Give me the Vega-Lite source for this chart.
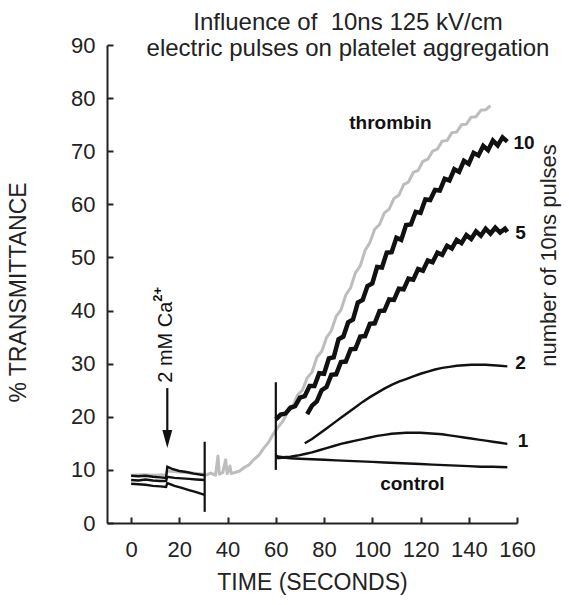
{
  "$schema": "https://vega.github.io/schema/vega-lite/v6.json",
  "width": 410,
  "height": 478,
  "autosize": {"type": "none"},
  "padding": {"left": 107, "top": 45, "right": 52, "bottom": 82},
  "background": "white",
  "title": {
    "text": ["Influence of \u00a010ns 125 kV/cm", "electric pulses on platelet aggregation"],
    "fontSize": 24,
    "font": "Liberation Sans",
    "fontWeight": "normal",
    "color": "#222",
    "anchor": "middle",
    "frame": "group",
    "dx": 36,
    "offset": -46,
    "baseline": "alphabetic",
    "lineHeight": 26
  },
  "datasets": {
    "lines": [
      {"s": "thrombin", "t": 0, "v": 9.0}, {"s": "thrombin", "t": 5, "v": 9.1}, {"s": "thrombin", "t": 10, "v": 9.0}, {"s": "thrombin", "t": 14.5, "v": 9.1}, {"s": "thrombin", "t": 15, "v": 9.8}, {"s": "thrombin", "t": 20, "v": 9.6}, {"s": "thrombin", "t": 25, "v": 9.4}, {"s": "thrombin", "t": 30, "v": 9.2},
      {"s": "thrombin", "t": 31, "v": 9.0}, {"s": "thrombin", "t": 33, "v": 9.4}, {"s": "thrombin", "t": 35, "v": 9.0}, {"s": "thrombin", "t": 36, "v": 12.6}, {"s": "thrombin", "t": 36.6, "v": 9.2}, {"s": "thrombin", "t": 38, "v": 9.5}, {"s": "thrombin", "t": 39.2, "v": 11.9}, {"s": "thrombin", "t": 39.8, "v": 9.3}, {"s": "thrombin", "t": 41, "v": 10.7}, {"s": "thrombin", "t": 41.5, "v": 9.3}, {"s": "thrombin", "t": 43, "v": 9.5}, {"s": "thrombin", "t": 45, "v": 9.8}, {"s": "thrombin", "t": 47, "v": 10.5}, {"s": "thrombin", "t": 49, "v": 11.0}, {"s": "thrombin", "t": 51, "v": 12.0}, {"s": "thrombin", "t": 53, "v": 12.8}, {"s": "thrombin", "t": 55, "v": 14.1}, {"s": "thrombin", "t": 57, "v": 15.2}, {"s": "thrombin", "t": 59, "v": 16.8}, {"s": "thrombin", "t": 61, "v": 18.1}, {"s": "thrombin", "t": 63, "v": 19.2}, {"s": "thrombin", "t": 65, "v": 21.0}, {"s": "thrombin", "t": 67, "v": 21.9}, {"s": "thrombin", "t": 69, "v": 24.1}, {"s": "thrombin", "t": 71, "v": 25.0}, {"s": "thrombin", "t": 73, "v": 27.3}, {"s": "thrombin", "t": 75, "v": 28.4}, {"s": "thrombin", "t": 77, "v": 31.2}, {"s": "thrombin", "t": 79, "v": 32.3}, {"s": "thrombin", "t": 81, "v": 34.9}, {"s": "thrombin", "t": 83, "v": 36.2}, {"s": "thrombin", "t": 85, "v": 38.9}, {"s": "thrombin", "t": 87, "v": 40.1}, {"s": "thrombin", "t": 89, "v": 42.9}, {"s": "thrombin", "t": 91, "v": 44.3}, {"s": "thrombin", "t": 93, "v": 47.1}, {"s": "thrombin", "t": 95, "v": 48.4}, {"s": "thrombin", "t": 97, "v": 51.3}, {"s": "thrombin", "t": 99, "v": 52.8}, {"s": "thrombin", "t": 101, "v": 55.3}, {"s": "thrombin", "t": 103, "v": 56.2}, {"s": "thrombin", "t": 105, "v": 58.4}, {"s": "thrombin", "t": 107, "v": 59.1}, {"s": "thrombin", "t": 109, "v": 61.1}, {"s": "thrombin", "t": 111, "v": 61.7}, {"s": "thrombin", "t": 113, "v": 63.7}, {"s": "thrombin", "t": 115, "v": 64.2}, {"s": "thrombin", "t": 117, "v": 66.0}, {"s": "thrombin", "t": 119, "v": 66.4}, {"s": "thrombin", "t": 121, "v": 68.1}, {"s": "thrombin", "t": 123, "v": 68.5}, {"s": "thrombin", "t": 125, "v": 70.0}, {"s": "thrombin", "t": 127, "v": 70.4}, {"s": "thrombin", "t": 129, "v": 71.9}, {"s": "thrombin", "t": 131, "v": 72.0}, {"s": "thrombin", "t": 133, "v": 73.5}, {"s": "thrombin", "t": 135, "v": 73.6}, {"s": "thrombin", "t": 137, "v": 75.0}, {"s": "thrombin", "t": 139, "v": 75.1}, {"s": "thrombin", "t": 141, "v": 76.4}, {"s": "thrombin", "t": 143, "v": 76.5}, {"s": "thrombin", "t": 145, "v": 77.7}, {"s": "thrombin", "t": 147, "v": 77.8}, {"s": "thrombin", "t": 149, "v": 78.6},

      {"s": "10", "t": 60, "v": 19.5}, {"s": "10", "t": 62, "v": 20.4}, {"s": "10", "t": 64, "v": 20.6}, {"s": "10", "t": 66, "v": 21.7}, {"s": "10", "t": 68, "v": 22.0}, {"s": "10", "t": 70, "v": 23.6}, {"s": "10", "t": 72, "v": 23.9}, {"s": "10", "t": 74, "v": 25.8}, {"s": "10", "t": 76, "v": 25.8}, {"s": "10", "t": 78, "v": 28.2}, {"s": "10", "t": 80, "v": 28.1}, {"s": "10", "t": 82, "v": 31.0}, {"s": "10", "t": 84, "v": 31.2}, {"s": "10", "t": 86, "v": 34.6}, {"s": "10", "t": 88, "v": 35.1}, {"s": "10", "t": 90, "v": 37.8}, {"s": "10", "t": 92, "v": 38.3}, {"s": "10", "t": 94, "v": 41.5}, {"s": "10", "t": 96, "v": 42.0}, {"s": "10", "t": 98, "v": 44.6}, {"s": "10", "t": 100, "v": 45.1}, {"s": "10", "t": 102, "v": 48.2}, {"s": "10", "t": 104, "v": 48.1}, {"s": "10", "t": 106, "v": 50.9}, {"s": "10", "t": 108, "v": 51.0}, {"s": "10", "t": 110, "v": 53.7}, {"s": "10", "t": 112, "v": 53.3}, {"s": "10", "t": 114, "v": 56.1}, {"s": "10", "t": 116, "v": 56.2}, {"s": "10", "t": 118, "v": 58.6}, {"s": "10", "t": 120, "v": 58.4}, {"s": "10", "t": 122, "v": 60.9}, {"s": "10", "t": 124, "v": 60.8}, {"s": "10", "t": 126, "v": 62.7}, {"s": "10", "t": 128, "v": 62.6}, {"s": "10", "t": 130, "v": 64.8}, {"s": "10", "t": 132, "v": 64.5}, {"s": "10", "t": 134, "v": 66.6}, {"s": "10", "t": 136, "v": 66.1}, {"s": "10", "t": 138, "v": 68.2}, {"s": "10", "t": 140, "v": 67.6}, {"s": "10", "t": 142, "v": 69.7}, {"s": "10", "t": 144, "v": 69.2}, {"s": "10", "t": 146, "v": 71.0}, {"s": "10", "t": 148, "v": 70.2}, {"s": "10", "t": 150, "v": 72.0}, {"s": "10", "t": 152, "v": 71.1}, {"s": "10", "t": 154, "v": 72.6}, {"s": "10", "t": 156, "v": 71.8},

      {"s": "5", "t": 73, "v": 20.5}, {"s": "5", "t": 75, "v": 22.1}, {"s": "5", "t": 77, "v": 22.9}, {"s": "5", "t": 79, "v": 25.0}, {"s": "5", "t": 81, "v": 25.6}, {"s": "5", "t": 83, "v": 27.9}, {"s": "5", "t": 85, "v": 28.0}, {"s": "5", "t": 87, "v": 30.3}, {"s": "5", "t": 89, "v": 30.4}, {"s": "5", "t": 91, "v": 32.7}, {"s": "5", "t": 93, "v": 32.8}, {"s": "5", "t": 95, "v": 35.1}, {"s": "5", "t": 97, "v": 35.2}, {"s": "5", "t": 99, "v": 37.5}, {"s": "5", "t": 101, "v": 37.6}, {"s": "5", "t": 103, "v": 39.9}, {"s": "5", "t": 105, "v": 40.0}, {"s": "5", "t": 107, "v": 42.1}, {"s": "5", "t": 109, "v": 42.0}, {"s": "5", "t": 111, "v": 44.1}, {"s": "5", "t": 113, "v": 44.0}, {"s": "5", "t": 115, "v": 46.0}, {"s": "5", "t": 117, "v": 45.8}, {"s": "5", "t": 119, "v": 47.8}, {"s": "5", "t": 121, "v": 47.5}, {"s": "5", "t": 123, "v": 49.4}, {"s": "5", "t": 125, "v": 49.1}, {"s": "5", "t": 127, "v": 50.9}, {"s": "5", "t": 129, "v": 50.5}, {"s": "5", "t": 131, "v": 52.2}, {"s": "5", "t": 133, "v": 51.7}, {"s": "5", "t": 135, "v": 53.3}, {"s": "5", "t": 137, "v": 52.7}, {"s": "5", "t": 139, "v": 54.2}, {"s": "5", "t": 141, "v": 53.5}, {"s": "5", "t": 143, "v": 54.9}, {"s": "5", "t": 145, "v": 54.1}, {"s": "5", "t": 147, "v": 55.4}, {"s": "5", "t": 149, "v": 54.5}, {"s": "5", "t": 151, "v": 55.6}, {"s": "5", "t": 153, "v": 54.7}, {"s": "5", "t": 155, "v": 55.4}, {"s": "5", "t": 156, "v": 54.8},

      {"s": "2", "t": 72, "v": 15.0}, {"s": "2", "t": 75, "v": 15.8}, {"s": "2", "t": 78, "v": 16.8}, {"s": "2", "t": 81, "v": 17.8}, {"s": "2", "t": 84, "v": 18.8}, {"s": "2", "t": 87, "v": 19.8}, {"s": "2", "t": 90, "v": 20.8}, {"s": "2", "t": 93, "v": 21.8}, {"s": "2", "t": 96, "v": 22.8}, {"s": "2", "t": 99, "v": 23.7}, {"s": "2", "t": 102, "v": 24.5}, {"s": "2", "t": 105, "v": 25.3}, {"s": "2", "t": 108, "v": 26.0}, {"s": "2", "t": 111, "v": 26.6}, {"s": "2", "t": 114, "v": 27.1}, {"s": "2", "t": 117, "v": 27.6}, {"s": "2", "t": 120, "v": 28.1}, {"s": "2", "t": 123, "v": 28.5}, {"s": "2", "t": 126, "v": 28.9}, {"s": "2", "t": 129, "v": 29.2}, {"s": "2", "t": 132, "v": 29.4}, {"s": "2", "t": 135, "v": 29.6}, {"s": "2", "t": 138, "v": 29.7}, {"s": "2", "t": 141, "v": 29.8}, {"s": "2", "t": 144, "v": 29.8}, {"s": "2", "t": 147, "v": 29.8}, {"s": "2", "t": 150, "v": 29.7}, {"s": "2", "t": 153, "v": 29.6}, {"s": "2", "t": 156, "v": 29.5},

      {"s": "1", "t": 60, "v": 12.6}, {"s": "1", "t": 63, "v": 12.4}, {"s": "1", "t": 66, "v": 12.5}, {"s": "1", "t": 69, "v": 12.7}, {"s": "1", "t": 72, "v": 13.0}, {"s": "1", "t": 75, "v": 13.3}, {"s": "1", "t": 78, "v": 13.7}, {"s": "1", "t": 81, "v": 14.1}, {"s": "1", "t": 84, "v": 14.5}, {"s": "1", "t": 87, "v": 14.9}, {"s": "1", "t": 90, "v": 15.2}, {"s": "1", "t": 93, "v": 15.5}, {"s": "1", "t": 96, "v": 15.8}, {"s": "1", "t": 99, "v": 16.1}, {"s": "1", "t": 102, "v": 16.4}, {"s": "1", "t": 105, "v": 16.6}, {"s": "1", "t": 108, "v": 16.8}, {"s": "1", "t": 111, "v": 16.9}, {"s": "1", "t": 114, "v": 17.0}, {"s": "1", "t": 117, "v": 17.0}, {"s": "1", "t": 120, "v": 17.0}, {"s": "1", "t": 123, "v": 16.9}, {"s": "1", "t": 126, "v": 16.8}, {"s": "1", "t": 129, "v": 16.7}, {"s": "1", "t": 132, "v": 16.5}, {"s": "1", "t": 135, "v": 16.3}, {"s": "1", "t": 138, "v": 16.1}, {"s": "1", "t": 141, "v": 15.9}, {"s": "1", "t": 144, "v": 15.7}, {"s": "1", "t": 147, "v": 15.5}, {"s": "1", "t": 150, "v": 15.3}, {"s": "1", "t": 153, "v": 15.1}, {"s": "1", "t": 156, "v": 14.9},

      {"s": "control", "t": 60, "v": 12.8}, {"s": "control", "t": 61, "v": 12.2}, {"s": "control", "t": 63, "v": 12.3}, {"s": "control", "t": 66, "v": 12.2}, {"s": "control", "t": 70, "v": 12.1}, {"s": "control", "t": 75, "v": 12.0}, {"s": "control", "t": 80, "v": 11.9}, {"s": "control", "t": 85, "v": 11.8}, {"s": "control", "t": 90, "v": 11.7}, {"s": "control", "t": 95, "v": 11.6}, {"s": "control", "t": 100, "v": 11.5}, {"s": "control", "t": 105, "v": 11.4}, {"s": "control", "t": 110, "v": 11.3}, {"s": "control", "t": 115, "v": 11.2}, {"s": "control", "t": 120, "v": 11.1}, {"s": "control", "t": 125, "v": 11.0}, {"s": "control", "t": 130, "v": 10.9}, {"s": "control", "t": 135, "v": 10.8}, {"s": "control", "t": 140, "v": 10.7}, {"s": "control", "t": 145, "v": 10.6}, {"s": "control", "t": 150, "v": 10.6}, {"s": "control", "t": 156, "v": 10.5},

      {"s": "preA", "t": 0, "v": 8.9}, {"s": "preA", "t": 3, "v": 8.8}, {"s": "preA", "t": 6, "v": 8.9}, {"s": "preA", "t": 9, "v": 8.7}, {"s": "preA", "t": 12, "v": 8.6}, {"s": "preA", "t": 14.5, "v": 8.5}, {"s": "preA", "t": 15, "v": 10.6}, {"s": "preA", "t": 17, "v": 10.2}, {"s": "preA", "t": 20, "v": 9.8}, {"s": "preA", "t": 23, "v": 9.6}, {"s": "preA", "t": 26, "v": 9.3}, {"s": "preA", "t": 30.5, "v": 9.0},
      {"s": "preB", "t": 0, "v": 8.1}, {"s": "preB", "t": 3, "v": 8.0}, {"s": "preB", "t": 6, "v": 8.2}, {"s": "preB", "t": 9, "v": 8.0}, {"s": "preB", "t": 12, "v": 7.9}, {"s": "preB", "t": 14.5, "v": 7.9}, {"s": "preB", "t": 15, "v": 8.7}, {"s": "preB", "t": 18, "v": 8.5}, {"s": "preB", "t": 21, "v": 8.4}, {"s": "preB", "t": 24, "v": 8.3}, {"s": "preB", "t": 27, "v": 8.2}, {"s": "preB", "t": 30.5, "v": 8.1},
      {"s": "preC", "t": 0, "v": 7.4}, {"s": "preC", "t": 3, "v": 7.3}, {"s": "preC", "t": 6, "v": 7.2}, {"s": "preC", "t": 9, "v": 7.0}, {"s": "preC", "t": 12, "v": 6.9}, {"s": "preC", "t": 14.5, "v": 6.8}, {"s": "preC", "t": 15, "v": 7.5}, {"s": "preC", "t": 18, "v": 7.0}, {"s": "preC", "t": 21, "v": 6.6}, {"s": "preC", "t": 24, "v": 6.2}, {"s": "preC", "t": 27, "v": 5.8}, {"s": "preC", "t": 30.5, "v": 5.3}
    ],
    "rules": [
      {"t": 30.5, "v": 2.1, "v2": 15.3},
      {"t": 60, "v": 10.0, "v2": 26.5},
      {"t": 15, "v": 25.4, "v2": 17.0}
    ],
    "arrowhead": [{"t": 15, "v": 15.8}],
    "curveLabels": [
      {"t": 107.5, "v": 75.3, "label": "thrombin"},
      {"t": 116.6, "v": 7.3, "label": "control"}
    ],
    "pulseLabels": [
      {"t": 158.5, "v": 71.6, "label": "10"},
      {"t": 159.3, "v": 54.6, "label": "5"},
      {"t": 159.3, "v": 30.2, "label": "2"},
      {"t": 160.3, "v": 15.4, "label": "1"}
    ],
    "caLabel": [{"t": 14.3, "v": 26.4, "label": "2 mM Ca", "sup": "2+"}]
  },
  "resolve": {"scale": {"y": "independent"}},
  "layer": [
    {
      "layer": [
        {
          "data": {"name": "lines"},
          "transform": [{"filter": "datum.s === 'thrombin'"}],
          "mark": {"type": "line", "color": "#bdbdbd", "strokeWidth": 3, "strokeJoin": "round"},
          "encoding": {
            "x": {"field": "t", "type": "quantitative", "scale": {"domain": [-10, 160], "nice": false},
              "axis": {"values": [0, 20, 40, 60, 80, 100, 120, 140, 160], "title": "TIME (SECONDS)", "labelPadding": 22, "titlePadding": 11, "labelOverlap": false, "labelFlush": false}},
            "y": {"field": "v", "type": "quantitative", "scale": {"domain": [0, 90], "nice": false},
              "axis": {"values": [0, 10, 20, 30, 40, 50, 60, 70, 80, 90], "title": "% TRANSMITTANCE", "labelPadding": 18, "labelOverlap": false, "titleAngle": 270, "titleAlign": "center", "titleBaseline": "middle", "titleX": -89, "titleY": 247}},
            "detail": {"field": "s"}
          }
        },
        {
          "data": {"name": "lines"},
          "transform": [{"filter": "datum.s === '10' || datum.s === '5'"}],
          "mark": {"type": "line", "color": "#111", "strokeWidth": 4.5, "strokeJoin": "miter"},
          "encoding": {
            "x": {"field": "t", "type": "quantitative"},
            "y": {"field": "v", "type": "quantitative"},
            "detail": {"field": "s"}
          }
        },
        {
          "data": {"name": "lines"},
          "transform": [{"filter": "datum.s !== '10' && datum.s !== '5' && datum.s !== 'thrombin'"}],
          "mark": {"type": "line", "color": "#111", "strokeWidth": 2.4},
          "encoding": {
            "x": {"field": "t", "type": "quantitative"},
            "y": {"field": "v", "type": "quantitative"},
            "detail": {"field": "s"}
          }
        },
        {
          "data": {"name": "rules"},
          "mark": {"type": "rule", "color": "#111", "strokeWidth": 2.2},
          "encoding": {
            "x": {"field": "t", "type": "quantitative"},
            "y": {"field": "v", "type": "quantitative"},
            "y2": {"field": "v2"}
          }
        },
        {
          "data": {"name": "arrowhead"},
          "mark": {"type": "point", "shape": "M-0.55,-1L0.55,-1L0,1Z", "filled": true, "color": "#111", "size": 324, "opacity": 1},
          "encoding": {
            "x": {"field": "t", "type": "quantitative"},
            "y": {"field": "v", "type": "quantitative"}
          }
        },
        {
          "data": {"name": "curveLabels"},
          "mark": {"type": "text", "font": "Liberation Sans", "fontSize": 19, "fontWeight": "bold", "color": "#111", "align": "center", "baseline": "middle"},
          "encoding": {
            "x": {"field": "t", "type": "quantitative"},
            "y": {"field": "v", "type": "quantitative"},
            "text": {"field": "label"}
          }
        },
        {
          "data": {"name": "caLabel"},
          "mark": {"type": "text", "font": "Liberation Sans", "fontSize": 20, "color": "#111", "align": "left", "baseline": "middle", "angle": 270},
          "encoding": {
            "x": {"field": "t", "type": "quantitative"},
            "y": {"field": "v", "type": "quantitative"},
            "text": {"field": "label"}
          }
        },
        {
          "data": {"name": "caLabel"},
          "mark": {"type": "text", "font": "Liberation Sans", "fontSize": 13, "fontWeight": "bold", "color": "#111", "align": "left", "baseline": "middle", "angle": 270, "dx": 81, "dy": -8},
          "encoding": {
            "x": {"field": "t", "type": "quantitative"},
            "y": {"field": "v", "type": "quantitative"},
            "text": {"field": "sup"}
          }
        }
      ]
    },
    {
      "data": {"name": "pulseLabels"},
      "mark": {"type": "text", "font": "Liberation Sans", "fontSize": 19, "fontWeight": "bold", "color": "#111", "align": "left", "baseline": "middle"},
      "encoding": {
        "x": {"field": "t", "type": "quantitative"},
        "y": {"field": "v", "type": "quantitative", "scale": {"domain": [0, 90], "nice": false},
          "axis": {"orient": "right", "labels": false, "ticks": false, "domain": false, "title": "number of 10ns pulses", "titleFontSize": 22, "titleAngle": 270, "titleAlign": "center", "titleBaseline": "middle", "titleX": 31, "titleY": 210}},
        "text": {"field": "label"}
      }
    }
  ],
  "config": {
    "view": {"stroke": null},
    "font": "Liberation Sans",
    "axis": {
      "grid": false,
      "domainColor": "#222",
      "domainWidth": 2,
      "tickColor": "#222",
      "tickWidth": 2,
      "tickSize": -6,
      "labelFont": "Liberation Sans",
      "labelFontSize": 22,
      "labelColor": "#222",
      "titleFont": "Liberation Sans",
      "titleFontSize": 23,
      "titleFontWeight": "normal",
      "titleColor": "#222"
    }
  }
}
